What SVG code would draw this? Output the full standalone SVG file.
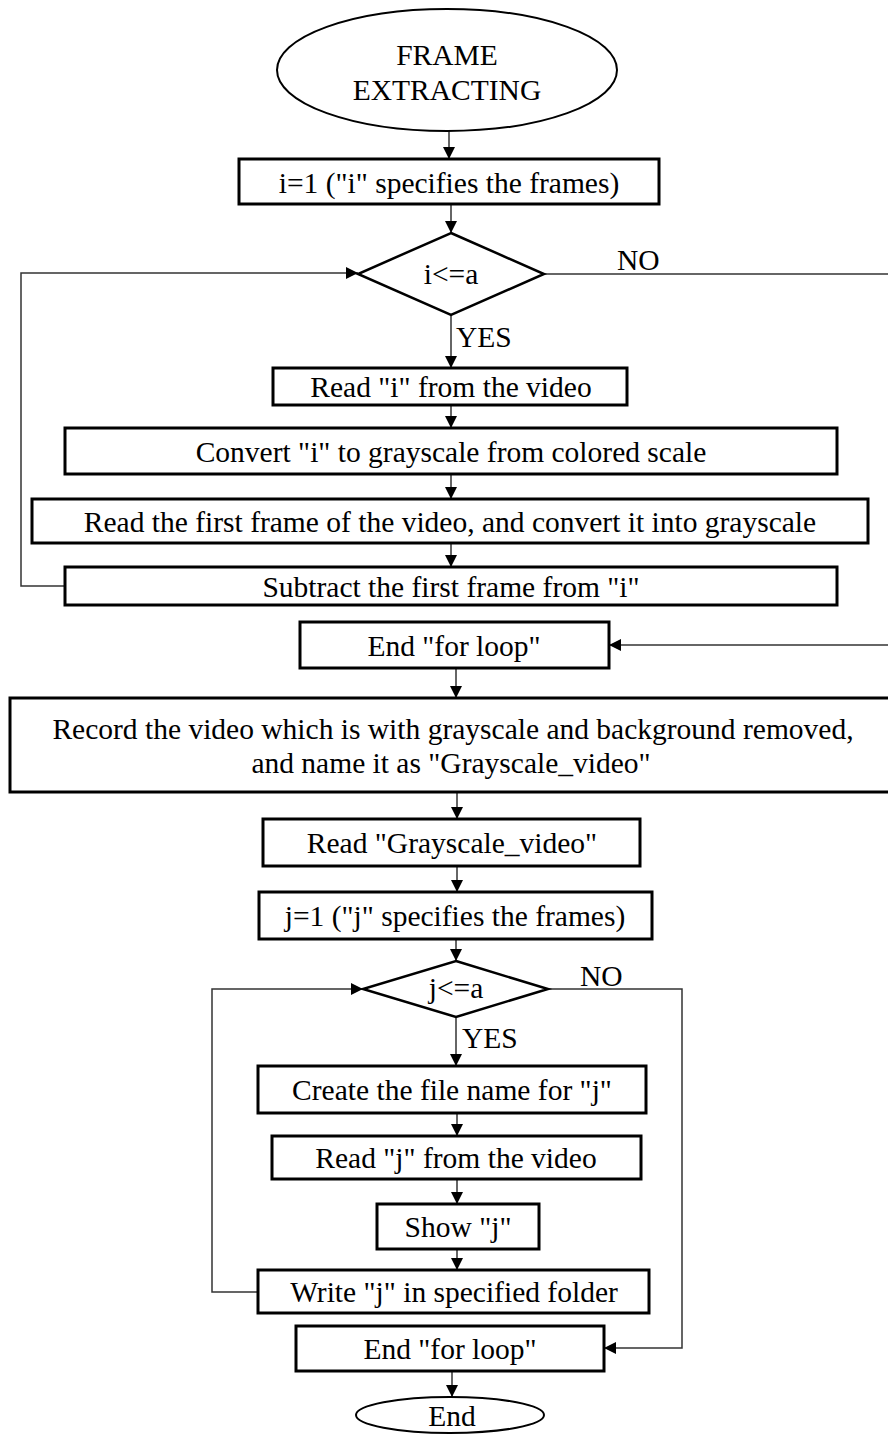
<svg xmlns="http://www.w3.org/2000/svg" width="888" height="1434" viewBox="0 0 888 1434">
  <style>
    .box { fill: #ffffff; stroke: #000000; stroke-width: 3; }
    .dec { fill: #ffffff; stroke: #000000; stroke-width: 2.5; }
    .term { fill: #ffffff; stroke: #000000; stroke-width: 2; }
    text { font-family: 'Liberation Serif', 'DejaVu Serif', serif; font-size: 29.5px; fill: #000000; }
    .lbl { text-anchor: middle; }
    .wire { fill: none; stroke: #333333; stroke-width: 1.5; }
    .flow { fill: none; stroke: #333333; stroke-width: 1.5; marker-end: url(#head); }
  </style>
  <defs>
    <marker id="head" viewBox="0 0 12 12" refX="12" refY="6" markerWidth="12" markerHeight="12" markerUnits="userSpaceOnUse" orient="auto">
      <path d="M0,0 L12,6 L0,12 z" fill="#000000"/>
    </marker>
  </defs>
  <rect width="888" height="1434" fill="#ffffff"/>

  <!-- connectors -->
  <g id="connectors">
    <path class="flow" d="M449,131 V159"/>
    <path class="flow" d="M451,204 V233"/>
    <path class="flow" d="M451,315 V368"/>
    <path class="flow" d="M451,405 V428"/>
    <path class="flow" d="M451,474 V499"/>
    <path class="flow" d="M451,543 V567"/>
    <!-- first loop: back to the i<=a test -->
    <path class="flow" d="M65,586 H21 V273 H358"/>
    <!-- first exit: NO branch -->
    <path class="wire" d="M544,274 H888"/>
    <path class="flow" d="M888,645 H609"/>
    <path class="flow" d="M456,668 V698"/>
    <path class="flow" d="M457,792 V819"/>
    <path class="flow" d="M457,866 V892"/>
    <path class="flow" d="M456,939 V961"/>
    <path class="flow" d="M456,1017 V1066"/>
    <path class="flow" d="M457,1113 V1136"/>
    <path class="flow" d="M457,1179 V1204"/>
    <path class="flow" d="M457,1249 V1270"/>
    <!-- second loop: back to the j<=a test -->
    <path class="flow" d="M258,1292 H212 V989 H363"/>
    <!-- second exit: NO branch -->
    <path class="flow" d="M548,989 H682 V1348 H604"/>
    <path class="flow" d="M452,1371 V1397"/>
    <text x="617" y="270">NO</text>
    <text x="456" y="347">YES</text>
    <text x="580" y="986">NO</text>
    <text x="462" y="1048">YES</text>
  </g>

  <g id="start">
    <ellipse class="term" cx="447" cy="70" rx="170" ry="61"/>
    <text class="lbl" x="447" y="65">FRAME</text>
    <text class="lbl" x="447" y="100">EXTRACTING</text>
  </g>

  <g id="init-i">
    <rect class="box" x="239" y="159" width="420" height="45"/>
    <text class="lbl" x="449" y="193">i=1 ("i" specifies the frames)</text>
  </g>

  <g id="test-i">
    <polygon class="dec" points="451,233 544,274 451,315 358,274"/>
    <text class="lbl" x="451" y="284">i&lt;=a</text>
  </g>

  <g id="read-i">
    <rect class="box" x="273" y="368" width="354" height="37"/>
    <text class="lbl" x="451" y="397">Read "i" from the video</text>
  </g>

  <g id="convert-i">
    <rect class="box" x="65" y="428" width="772" height="46"/>
    <text class="lbl" x="451" y="462">Convert "i" to grayscale from colored scale</text>
  </g>

  <g id="read-first">
    <rect class="box" x="32" y="499" width="836" height="44"/>
    <text class="lbl" x="450" y="532">Read the first frame of the video, and convert it into grayscale</text>
  </g>

  <g id="subtract">
    <rect class="box" x="65" y="567" width="772" height="38"/>
    <text class="lbl" x="451" y="597">Subtract the first frame from "i"</text>
  </g>

  <g id="end-loop-i">
    <rect class="box" x="300" y="622" width="309" height="46"/>
    <text class="lbl" x="454" y="656">End "for loop"</text>
  </g>

  <g id="record">
    <rect class="box" x="10" y="698" width="890" height="94"/>
    <text class="lbl" x="453" y="739">Record the video which is with grayscale and background removed,</text>
    <text class="lbl" x="451" y="773">and name it as "Grayscale_video"</text>
  </g>

  <g id="read-gray">
    <rect class="box" x="263" y="819" width="377" height="47"/>
    <text class="lbl" x="452" y="853">Read "Grayscale_video"</text>
  </g>

  <g id="init-j">
    <rect class="box" x="259" y="892" width="393" height="47"/>
    <text class="lbl" x="455" y="926">j=1 ("j" specifies the frames)</text>
  </g>

  <g id="test-j">
    <polygon class="dec" points="456,961 548,989 456,1017 363,989"/>
    <text class="lbl" x="456" y="998">j&lt;=a</text>
  </g>

  <g id="file-name">
    <rect class="box" x="258" y="1066" width="388" height="47"/>
    <text class="lbl" x="452" y="1100">Create the file name for "j"</text>
  </g>

  <g id="read-j">
    <rect class="box" x="272" y="1136" width="369" height="43"/>
    <text class="lbl" x="456" y="1168">Read "j" from the video</text>
  </g>

  <g id="show-j">
    <rect class="box" x="377" y="1204" width="162" height="45"/>
    <text class="lbl" x="458" y="1237">Show "j"</text>
  </g>

  <g id="write-j">
    <rect class="box" x="258" y="1270" width="391" height="43"/>
    <text class="lbl" x="454" y="1302">Write "j" in specified folder</text>
  </g>

  <g id="end-loop-j">
    <rect class="box" x="296" y="1326" width="308" height="45"/>
    <text class="lbl" x="450" y="1359">End "for loop"</text>
  </g>

  <g id="end">
    <ellipse class="term" cx="450" cy="1415" rx="94" ry="18"/>
    <text class="lbl" x="452" y="1426">End</text>
  </g>
</svg>
